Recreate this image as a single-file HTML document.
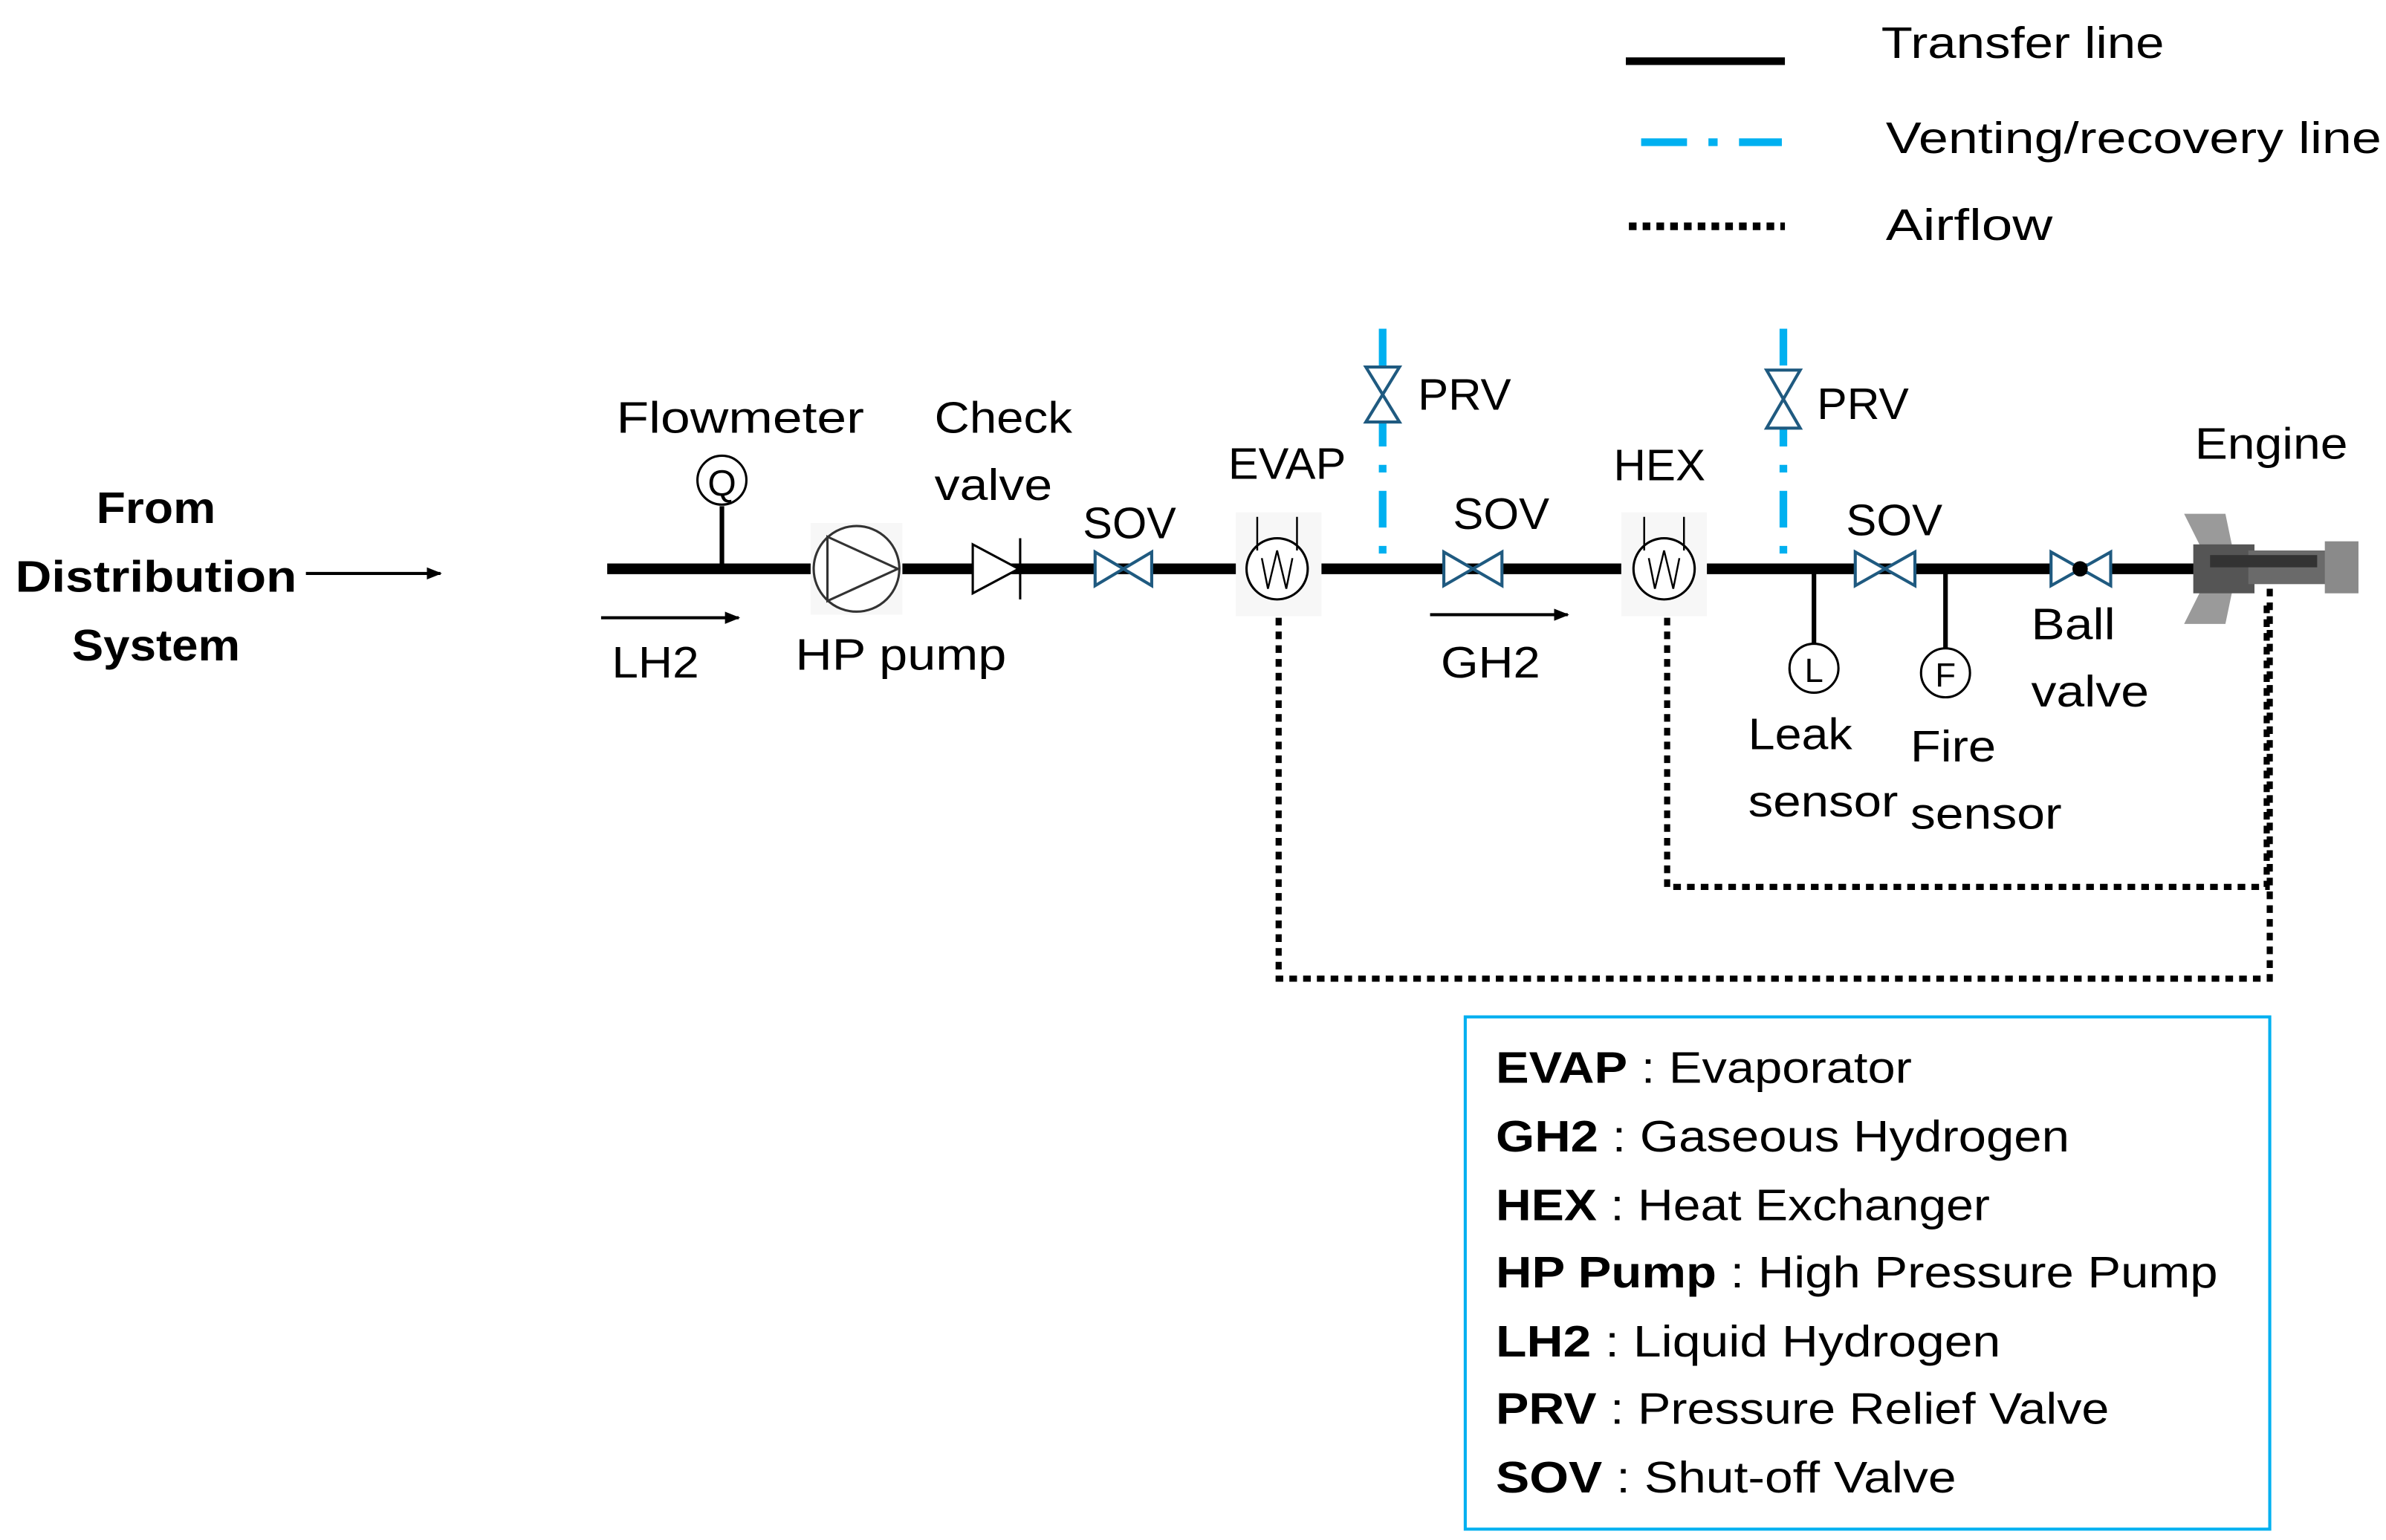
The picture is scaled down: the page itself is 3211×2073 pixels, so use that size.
<!DOCTYPE html>
<html><head><meta charset="utf-8"><style>
html,body{margin:0;padding:0;background:#fff;}
svg{display:block;}
text{font-family:"Liberation Sans",sans-serif;font-size:29px;fill:#000;}
.b{font-weight:bold;}
</style></head><body>
<svg width="3211" height="2073" viewBox="0 0 1560 1007.1" preserveAspectRatio="none" xmlns="http://www.w3.org/2000/svg">
<defs>
<marker id="ah" markerWidth="10" markerHeight="10" refX="9" refY="5" orient="auto" markerUnits="userSpaceOnUse"><path d="M0,1 L10,5 L0,9 Z" fill="#000"/></marker>
</defs>
<!-- Legend -->
<line x1="1063" y1="40" x2="1167" y2="40" stroke="#000" stroke-width="5"/>
<text x="1230" y="38" textLength="185" lengthAdjust="spacingAndGlyphs">Transfer line</text>
<line x1="1073" y1="93" x2="1165" y2="93" stroke="#00b0f0" stroke-width="5" stroke-dasharray="30,14,6,14"/>
<text x="1233" y="100" textLength="324" lengthAdjust="spacingAndGlyphs">Venting/recovery line</text>
<line x1="1065" y1="148" x2="1167" y2="148" stroke="#000" stroke-width="5" stroke-dasharray="5,4"/>
<text x="1233" y="157" textLength="109" lengthAdjust="spacingAndGlyphs">Airflow</text>

<!-- From Distribution System -->
<text class="b" x="63" y="342" textLength="78" lengthAdjust="spacingAndGlyphs">From</text>
<text class="b" x="10" y="387" textLength="184" lengthAdjust="spacingAndGlyphs">Distribution</text>
<text class="b" x="47" y="432" textLength="110" lengthAdjust="spacingAndGlyphs">System</text>
<line x1="200" y1="375" x2="288" y2="375" stroke="#000" stroke-width="2" marker-end="url(#ah)"/>

<!-- Airflow dotted -->
<polyline points="836,395 836,640 1484,640 1484,380" fill="none" stroke="#000" stroke-width="4" stroke-dasharray="5,4"/>
<polyline points="1090,395 1090,580 1482,580 1482,395" fill="none" stroke="#000" stroke-width="4" stroke-dasharray="5,4"/>

<!-- Vent lines -->
<line x1="904" y1="215" x2="904" y2="372" stroke="#00b0f0" stroke-width="5" stroke-dasharray="24,12,5,12"/>
<line x1="1166" y1="215" x2="1166" y2="372" stroke="#00b0f0" stroke-width="5" stroke-dasharray="24,12,5,12"/>

<!-- main line -->
<line x1="397" y1="372" x2="1440" y2="372" stroke="#000" stroke-width="7"/>

<!-- flowmeter -->
<line x1="472" y1="331" x2="472" y2="372" stroke="#000" stroke-width="3"/>
<circle cx="472" cy="314" r="16" fill="#fff" stroke="#000" stroke-width="1.5"/>
<text x="472" y="324" text-anchor="middle" style="font-size:24px">Q</text>
<text x="403" y="283" textLength="162" lengthAdjust="spacingAndGlyphs">Flowmeter</text>

<!-- pump -->
<rect x="530" y="342" width="60" height="60" fill="#f7f7f7"/>
<circle cx="560" cy="372" r="28" fill="#fff" stroke="#333" stroke-width="1.5"/>
<path d="M541,351 L541,393 L587,372 Z" fill="none" stroke="#333" stroke-width="1.5"/>
<text x="520" y="438" textLength="138" lengthAdjust="spacingAndGlyphs">HP pump</text>

<!-- check valve -->
<path d="M636,356 L636,388 L666,372 Z" fill="#fff" stroke="#000" stroke-width="1.5"/>
<line x1="667" y1="352" x2="667" y2="392" stroke="#000" stroke-width="1.5"/>
<text x="611" y="283" textLength="90" lengthAdjust="spacingAndGlyphs">Check</text>
<text x="611" y="327" textLength="77" lengthAdjust="spacingAndGlyphs">valve</text>

<!-- SOV1 -->
<g stroke="#1f5a80" stroke-width="2" fill="#fff">
<path d="M716,361 L716,383 L753,361 L753,383 Z"/>
<path d="M944,361 L944,383 L982,361 L982,383 Z"/>
<path d="M1213,361 L1213,383 L1252,361 L1252,383 Z"/>
<path d="M1341,361 L1341,383 L1380,361 L1380,383 Z"/>
<path d="M893,240 L915,240 L893,276 L915,276 Z"/>
<path d="M1155,242 L1177,242 L1155,280 L1177,280 Z"/>
</g>
<circle cx="1360" cy="372" r="5" fill="#000"/>
<text x="708" y="352" textLength="61" lengthAdjust="spacingAndGlyphs">SOV</text>
<text x="950" y="346" textLength="63" lengthAdjust="spacingAndGlyphs">SOV</text>
<text x="1207" y="350" textLength="63" lengthAdjust="spacingAndGlyphs">SOV</text>
<text x="927" y="268" textLength="61" lengthAdjust="spacingAndGlyphs">PRV</text>
<text x="1188" y="274" textLength="60" lengthAdjust="spacingAndGlyphs">PRV</text>
<text x="1328" y="418" textLength="55" lengthAdjust="spacingAndGlyphs">Ball</text>
<text x="1328" y="462" textLength="77" lengthAdjust="spacingAndGlyphs">valve</text>

<!-- EVAP -->
<rect x="808" y="335" width="56" height="68" fill="#f7f7f7"/>
<circle cx="835" cy="372" r="20" fill="#fff" stroke="#000" stroke-width="1.5"/>
<path d="M822,338 L822,360 M848,338 L848,360 M825,365 L829,385 L835,360 L841,385 L845,365" fill="none" stroke="#000" stroke-width="1.2"/>
<text x="803" y="313" textLength="77" lengthAdjust="spacingAndGlyphs">EVAP</text>

<!-- HEX -->
<rect x="1060" y="335" width="56" height="68" fill="#f7f7f7"/>
<circle cx="1088" cy="372" r="20" fill="#fff" stroke="#000" stroke-width="1.5"/>
<path d="M1075,338 L1075,360 M1101,338 L1101,360 M1078,365 L1082,385 L1088,360 L1094,385 L1098,365" fill="none" stroke="#000" stroke-width="1.2"/>
<text x="1055" y="314" textLength="60" lengthAdjust="spacingAndGlyphs">HEX</text>

<!-- arrows LH2 GH2 -->
<line x1="393" y1="404" x2="483" y2="404" stroke="#000" stroke-width="2" marker-end="url(#ah)"/>
<text x="400" y="443" textLength="57" lengthAdjust="spacingAndGlyphs">LH2</text>
<line x1="935" y1="402" x2="1025" y2="402" stroke="#000" stroke-width="2" marker-end="url(#ah)"/>
<text x="942" y="443" textLength="65" lengthAdjust="spacingAndGlyphs">GH2</text>

<!-- sensors -->
<line x1="1186" y1="372" x2="1186" y2="421" stroke="#000" stroke-width="3"/>
<circle cx="1186" cy="437" r="16" fill="#fff" stroke="#000" stroke-width="1.5"/>
<text x="1186" y="446" text-anchor="middle" style="font-size:22px">L</text>
<line x1="1272" y1="372" x2="1272" y2="424" stroke="#000" stroke-width="3"/>
<circle cx="1272" cy="440" r="16" fill="#fff" stroke="#000" stroke-width="1.5"/>
<text x="1272" y="449" text-anchor="middle" style="font-size:22px">F</text>
<text x="1143" y="490" textLength="68" lengthAdjust="spacingAndGlyphs">Leak</text>
<text x="1143" y="534" textLength="98" lengthAdjust="spacingAndGlyphs">sensor</text>
<text x="1249" y="498" textLength="56" lengthAdjust="spacingAndGlyphs">Fire</text>
<text x="1249" y="542" textLength="99" lengthAdjust="spacingAndGlyphs">sensor</text>

<!-- engine -->
<g>
<path d="M1428,336 L1455,336 L1460,360 L1460,384 L1455,408 L1428,408 L1440,384 L1440,360 Z" fill="#9a9a9a"/>
<rect x="1434" y="356" width="40" height="32" fill="#555"/>
<rect x="1470" y="360" width="55" height="22" fill="#6a6a6a"/>
<rect x="1520" y="354" width="22" height="34" fill="#8a8a8a"/>
<rect x="1445" y="363" width="70" height="8" fill="#333"/>
</g>
<text x="1435" y="300" textLength="100" lengthAdjust="spacingAndGlyphs">Engine</text>

<!-- abbreviation box -->
<rect x="958" y="665" width="526" height="335" fill="none" stroke="#00b0f0" stroke-width="2"/>
<text x="978" y="708" textLength="272" lengthAdjust="spacingAndGlyphs"><tspan class="b">EVAP</tspan> : Evaporator</text>
<text x="978" y="753" textLength="375" lengthAdjust="spacingAndGlyphs"><tspan class="b">GH2</tspan> : Gaseous Hydrogen</text>
<text x="978" y="798" textLength="323" lengthAdjust="spacingAndGlyphs"><tspan class="b">HEX</tspan> : Heat Exchanger</text>
<text x="978" y="842" textLength="472" lengthAdjust="spacingAndGlyphs"><tspan class="b">HP Pump</tspan> : High Pressure Pump</text>
<text x="978" y="887" textLength="330" lengthAdjust="spacingAndGlyphs"><tspan class="b">LH2</tspan> : Liquid Hydrogen</text>
<text x="978" y="931" textLength="401" lengthAdjust="spacingAndGlyphs"><tspan class="b">PRV</tspan> : Pressure Relief Valve</text>
<text x="978" y="976" textLength="301" lengthAdjust="spacingAndGlyphs"><tspan class="b">SOV</tspan> : Shut-off Valve</text>
</svg>
</body></html>
